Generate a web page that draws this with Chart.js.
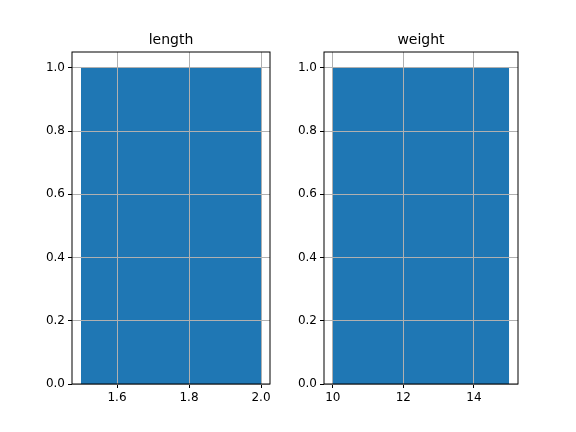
<!DOCTYPE html>
<html>
<head>
<script src="https://cdn.jsdelivr.net/npm/chart.js@4/dist/chart.umd.min.js"></script>
<style>
body { margin: 0; background: #fff; }
#wrap { position: relative; width: 576px; height: 432px; }
canvas { position: absolute; left: 0; top: 0; }
</style>
</head>
<body>
<div id="wrap">
<canvas id="c1" width="576" height="432"></canvas>
<canvas id="c2" width="576" height="432"></canvas>
</div>
<script>
// histogram data: one bin per column
const titles = ["length", "weight"];
const binEdges = [[1.5, 2.0], [10, 15]];
const counts = [[1], [1]];
const xTicks = [[1.6, 1.8, 2.0], [10, 12, 14]];
const xRanges = [[1.475, 2.025], [9.75, 15.25]];
const yTicks = [0, 0.2, 0.4, 0.6, 0.8, 1.0];

const frame = {
    id: "frame",
    afterDraw(chart, args, opts) {
        const a = chart.chartArea;
        const ctx = chart.ctx;
        ctx.save();
        ctx.strokeStyle = "#000";
        ctx.lineWidth = 1;
        ctx.strokeRect(a.left, a.top, a.right - a.left, a.bottom - a.top);
        ctx.fillStyle = "#000";
        ctx.font = "14px 'DejaVu Sans'";
        ctx.textAlign = "center";
        ctx.textBaseline = "bottom";
        ctx.fillText(opts.text, (a.left + a.right) / 2, a.top - 5);
        ctx.restore();
    }
};

function makeHist(id, i, padLeft, padRight) {
    let pts = [];
    for (let k = 0; k < counts[i].length; k++) {
        pts.push({x: binEdges[i][k], y: counts[i][k]});
        pts.push({x: binEdges[i][k + 1], y: counts[i][k]});
    }
    new Chart(document.getElementById(id), {
        type: "line",
        data: {
            datasets: [{
                data: pts,
                borderWidth: 0,
                pointRadius: 0,
                fill: "origin",
                backgroundColor: "#1f77b4",
                borderColor: "#1f77b4"
            }]
        },
        options: {
            responsive: false,
            animation: false,
            layout: { padding: { left: padLeft, right: padRight, top: 52, bottom: 0 } },
            plugins: { legend: { display: false }, tooltip: { enabled: false }, frame: { text: titles[i] } },
            scales: {
                x: {
                    type: "linear",
                    min: xRanges[i][0],
                    max: xRanges[i][1],
                    afterBuildTicks: s => { s.ticks = xTicks[i].map(v => ({value: v})); },
                    afterFit: s => { s.height = 48; },
                    grid: { color: "#b0b0b0", tickColor: "#000", tickLength: 4, z: 1, drawBorder: false },
                    border: { display: false },
                    ticks: { color: "#000", font: { family: "DejaVu Sans", size: 12 }, padding: 3, maxRotation: 0,
                             callback: v => (i == 0 ? v.toFixed(1) : String(v)) }
                },
                y: {
                    min: 0,
                    max: 1.05,
                    afterBuildTicks: s => { s.ticks = yTicks.map(v => ({value: v})); },
                    afterFit: s => { s.width = 40; },
                    grid: { color: "#b0b0b0", tickColor: "#000", tickLength: 4, z: 1 },
                    border: { display: false },
                    ticks: { color: "#000", font: { family: "DejaVu Sans", size: 12 }, padding: 3,
                             callback: v => v.toFixed(1) }
                }
            }
        },
        plugins: [frame]
    });
}

makeHist("c1", 0, 32, 306);
makeHist("c2", 1, 284, 58);
</script>
</body>
</html>
